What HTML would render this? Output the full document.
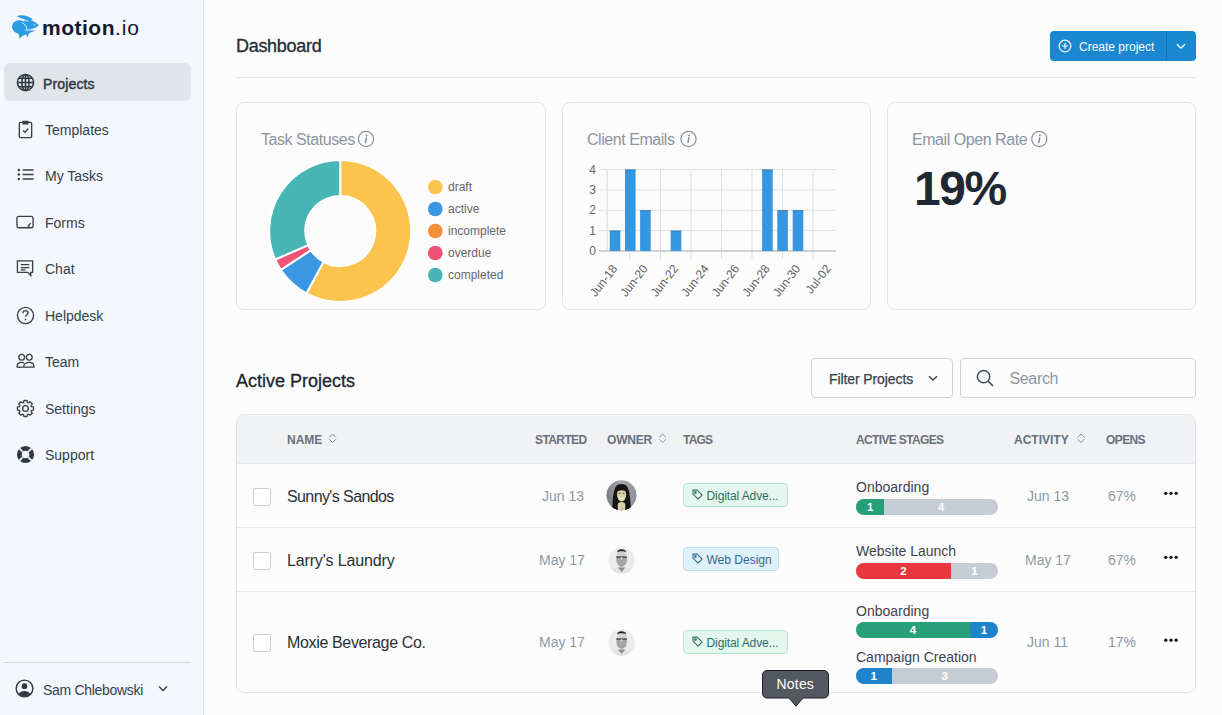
<!DOCTYPE html>
<html><head><meta charset="utf-8">
<style>
*{box-sizing:border-box;margin:0;padding:0}
html,body{width:1222px;height:715px;overflow:hidden;background:#fcfcfd;font-family:"Liberation Sans",sans-serif;color:#2a2f36}
.a{position:absolute}
.t{position:absolute;white-space:nowrap;line-height:1}
#side{position:absolute;left:0;top:0;width:204px;height:715px;background:#f4f7fb;border-right:1px solid #e3e6ea}
.nav{position:absolute;left:4px;width:187px;height:38px;border-radius:6px}
.nav.act{background:#e1e4e9}
.nav svg{position:absolute;left:12px;top:10px}
.nav .lbl{position:absolute;left:41px;top:13px;font-size:14px;line-height:14px;color:#363e4a;white-space:nowrap}
.card{position:absolute;top:102px;height:208px;border:1px solid #e1e4e8;border-radius:8px;background:#fcfcfd}
.ctitle{position:absolute;left:24px;top:29px;font-size:16px;line-height:16px;color:#8b95a1;white-space:nowrap;letter-spacing:-0.45px}
.info{display:inline-block;vertical-align:top}
.th{position:absolute;top:434px;font-size:12px;line-height:12px;font-weight:bold;color:#68707c;white-space:nowrap}
.sep{position:absolute;left:237px;width:958px;height:1px;background:#e6e8ec}
.cb{position:absolute;left:253px;width:18px;height:18px;border:1.5px solid #c9ced5;border-radius:2px;background:#fff}
.pname{position:absolute;left:287px;font-size:16px;line-height:16px;color:#2a2f36;white-space:nowrap;letter-spacing:-0.25px}
.date{position:absolute;font-size:14px;line-height:14px;color:#8e98a3;white-space:nowrap}
.pct{position:absolute;left:1108px;font-size:14px;line-height:14px;color:#8e98a3;white-space:nowrap}
.dots{position:absolute;left:1164px}
.stage{position:absolute;left:856px;font-size:14px;line-height:14px;color:#3b4350;white-space:nowrap}
.bar{position:absolute;left:856px;width:142px;height:16px;border-radius:8px;overflow:hidden;background:#c6ccd3;display:flex}
.bar div{height:16px;color:#fff;font-size:11.5px;line-height:16px;text-align:center;font-weight:bold}
.tag{position:absolute;height:24px;border-radius:4px;font-size:12px;line-height:22px;white-space:nowrap}
.tag svg{position:absolute;left:8.5px;top:5.5px;width:11px;height:11px}
.tag span{position:absolute;left:23px;top:1px}
</style></head><body>

<div id="side">
  <!-- logo -->
  <svg class="a" style="left:0;top:0" width="45" height="45" viewBox="0 0 45 45">
    <g fill="#2b9ce2">
    <path d="M16.8 16.4 C20 14.3 27 14.6 32.8 19.3 L28.5 21.2 C25 19.6 21 18.6 16.8 16.4 Z"/>
    <path d="M23.5 20.3 C28 18.8 34 20.5 39 25.2 C36 27.8 32 29.2 28 29.8 L26.5 30 C26 26 25.2 23 23.5 20.3 Z"/>
    <ellipse cx="19.3" cy="26.8" rx="7.4" ry="6.6"/>
    <path d="M22 30.5 L35.5 30.6 L20 37 Z"/>
    <path d="M17.5 31 L20 38.8 L24.5 32 Z"/>
    <path d="M26 33.5 L27.3 37.8 L29 33 Z"/>
    </g>
    <path d="M22 22.8 C24.8 24 26.6 26.5 27.1 29.8" fill="none" stroke="#f5f7fa" stroke-width="0.9"/>
    <path d="M17 17.3 C21 19 25 20 28.5 21.3" fill="none" stroke="#f5f7fa" stroke-width="0.8"/>
    <circle cx="34.6" cy="24.8" r="0.8" fill="#bfe3fa"/>
  </svg>
  <div class="t" style="left:42px;top:16.6px;font-size:21px;line-height:21px;font-weight:bold;color:#121a2b;letter-spacing:0.5px">motion<span style="font-weight:normal;letter-spacing:0.9px">.io</span></div>

  <div class="nav act" style="top:63px">
    <svg width="19" height="19" viewBox="0 0 20 20" fill="none" stroke="#2f3743" stroke-width="1.6"><circle cx="10" cy="10" r="8.5"/><ellipse cx="10" cy="10" rx="3.8" ry="8.5"/><path d="M1.5 10h17M3 5.5h14M3 14.5h14M10 1.5v17"/></svg>
    <div class="lbl" style="color:#2f3743;left:39px;top:13.5px;-webkit-text-stroke:0.45px #2f3743;letter-spacing:0.15px">Projects</div>
  </div>
  <div class="nav" style="top:110px">
    <svg width="19" height="19" viewBox="0 0 20 20" fill="none" stroke="#363e4a" stroke-width="1.4"><rect x="3.5" y="2.5" width="13" height="16" rx="1.5"/><path d="M7.5 1.5h5v2.5h-5z" fill="#363e4a"/><path d="M7.5 11l2 2 3.5-4"/></svg>
    <div class="lbl">Templates</div>
  </div>
  <div class="nav" style="top:156px">
    <svg width="19" height="19" viewBox="0 0 20 20" fill="none" stroke="#363e4a" stroke-width="1.4"><path d="M7 4.2h11.5M7 9h11.5M7 13.7h11.5" stroke-width="1.5"/><circle cx="3" cy="4.2" r="1.25" fill="#363e4a" stroke="none"/><circle cx="3" cy="9" r="1.25" fill="#363e4a" stroke="none"/><circle cx="3" cy="13.7" r="1.25" fill="#363e4a" stroke="none"/></svg>
    <div class="lbl">My Tasks</div>
  </div>
  <div class="nav" style="top:203px">
    <svg width="19" height="19" viewBox="0 0 20 20" fill="none" stroke="#363e4a" stroke-width="1.4"><rect x="1" y="3.5" width="17" height="12" rx="2"/><path d="M12.8 13.4l2.8-2.8M12.2 13.8h2.2" stroke-width="1.2"/></svg>
    <div class="lbl">Forms</div>
  </div>
  <div class="nav" style="top:249px">
    <svg width="19" height="19" viewBox="0 0 20 20" fill="none" stroke="#363e4a" stroke-width="1.4"><path d="M1.5 2h16v12h-2v3.5l-3-3.5h-11z"/><path d="M5 6h9M5 9h9M5 11.5h5"/></svg>
    <div class="lbl">Chat</div>
  </div>
  <div class="nav" style="top:296px">
    <svg width="19" height="19" viewBox="0 0 20 20" fill="none" stroke="#363e4a" stroke-width="1.4"><circle cx="10" cy="10" r="8.5"/><path d="M7.3 7.5c0-1.6 1.2-2.7 2.7-2.7s2.7 1.1 2.7 2.5c0 1.8-2.7 2-2.7 4"/><circle cx="10" cy="14.3" r="0.9" fill="#363e4a" stroke="none"/></svg>
    <div class="lbl">Helpdesk</div>
  </div>
  <div class="nav" style="top:342px">
    <svg width="19" height="19" viewBox="0 0 20 20" fill="none" stroke="#363e4a" stroke-width="1.4"><circle cx="6" cy="5.5" r="3"/><circle cx="14" cy="5.5" r="3"/><path d="M1 16c0-3 2-5 5-5 1.2 0 2 .3 2.7.8M8 16c0-3 2.6-5 6-5s5 2 5 5z"/><path d="M1 16h6"/></svg>
    <div class="lbl">Team</div>
  </div>
  <div class="nav" style="top:389px">
    <svg width="19" height="19" viewBox="0 0 20 20" fill="none" stroke="#363e4a" stroke-width="1.4"><path d="M16.31 8.05 L18.43 8.29 L18.43 11.71 L16.31 11.95 L15.84 13.08 L17.17 14.75 L14.75 17.17 L13.08 15.84 L11.95 16.31 L11.71 18.43 L8.29 18.43 L8.05 16.31 L6.92 15.84 L5.25 17.17 L2.83 14.75 L4.16 13.08 L3.69 11.95 L1.57 11.71 L1.57 8.29 L3.69 8.05 L4.16 6.92 L2.83 5.25 L5.25 2.83 L6.92 4.16 L8.05 3.69 L8.29 1.57 L11.71 1.57 L11.95 3.69 L13.08 4.16 L14.75 2.83 L17.17 5.25 L15.84 6.92Z" stroke-linejoin="round"/><circle cx="10" cy="10" r="3"/></svg>
    <div class="lbl">Settings</div>
  </div>
  <div class="nav" style="top:435px">
    <svg width="19" height="19" viewBox="0 0 20 20"><circle cx="10" cy="10" r="9" fill="#2f3743"/><circle cx="10" cy="10" r="4" fill="#f4f7fb"/><path d="M3.5 3.5l3.5 3.5M16.5 3.5l-3.5 3.5M3.5 16.5l3.5-3.5M16.5 16.5l-3.5-3.5" stroke="#f4f7fb" stroke-width="2"/></svg>
    <div class="lbl">Support</div>
  </div>

  <div class="a" style="left:4px;top:662px;width:187px;height:1px;background:#cfd4da"></div>
  <svg class="a" style="left:15px;top:679px" width="19" height="19" viewBox="0 0 20 20"><circle cx="10" cy="10" r="8.8" fill="none" stroke="#2f3743" stroke-width="1.5"/><circle cx="10" cy="7.5" r="3" fill="#2f3743"/><path d="M3.8 15.8c1.3-2.2 3.5-3.3 6.2-3.3s4.9 1.1 6.2 3.3c-1.6 1.6-3.8 2.6-6.2 2.6s-4.6-1-6.2-2.6z" fill="#2f3743"/></svg>
  <div class="t" style="left:43px;top:683px;font-size:14px;color:#363e4a;letter-spacing:-0.3px">Sam Chlebowski</div>
  <svg class="a" style="left:158px;top:685px" width="10" height="8" viewBox="0 0 10 8"><path d="M1 1.5l4 4 4-4" fill="none" stroke="#363e4a" stroke-width="1.4"/></svg>
</div>

<!-- header -->
<div class="t" style="left:236px;top:37px;font-size:18px;color:#252b35;letter-spacing:-0.3px;-webkit-text-stroke:0.3px #252b35">Dashboard</div>
<div class="a" style="left:1050px;top:31px;width:146px;height:30px;background:#1a88d0;border-radius:4px"></div>
<div class="a" style="left:1166px;top:31px;width:1px;height:30px;background:#1573b3"></div>
<svg class="a" style="left:1058px;top:39px" width="14" height="14" viewBox="0 0 14 14" fill="none" stroke="#fff" stroke-width="1.2"><circle cx="7" cy="7" r="5.8"/><path d="M7 4v6M4 7h6"/></svg>
<div class="t" style="left:1079px;top:41px;font-size:12px;color:#fff">Create project</div>
<svg class="a" style="left:1176px;top:43px" width="10" height="7" viewBox="0 0 10 7"><path d="M1 1.3l4 3.8 4-3.8" fill="none" stroke="#fff" stroke-width="1.3"/></svg>
<div class="a" style="left:236px;top:77px;width:960px;height:1px;background:#e3e6ea"></div>

<!-- cards -->
<div class="card" style="left:236px;width:310px">
  <div class="ctitle">Task Statuses</div>
</div>
<div class="card" style="left:562px;width:309px">
  <div class="ctitle">Client Emails</div>
</div>
<div class="card" style="left:887px;width:309px">
  <div class="ctitle">Email Open Rate</div>
  <div class="t" style="left:26px;top:62px;font-size:48px;font-weight:bold;color:#1e2733;letter-spacing:-1.5px">19%</div>
</div>

<!-- active projects -->
<div class="t" style="left:236px;top:372px;font-size:18px;color:#20252c;-webkit-text-stroke:0.3px #20252c">Active Projects</div>
<div class="a" style="left:811px;top:358px;width:142px;height:40px;border:1px solid #cdd1d7;border-radius:4px;background:#fcfcfd"></div>
<div class="t" style="left:829px;top:372px;font-size:14px;color:#38404c;-webkit-text-stroke:0.25px #38404c;letter-spacing:-0.1px">Filter Projects</div>
<svg class="a" style="left:928px;top:375px" width="10" height="7" viewBox="0 0 10 7"><path d="M1 1.3l4 3.8 4-3.8" fill="none" stroke="#38404c" stroke-width="1.4"/></svg>
<div class="a" style="left:960px;top:358px;width:236px;height:40px;border:1px solid #cdd1d7;border-radius:4px;background:#fcfcfd"></div>
<svg class="a" style="left:976px;top:369px" width="19" height="19" viewBox="0 0 20 20" fill="none" stroke="#454d58" stroke-width="1.6"><circle cx="8" cy="8" r="6.5"/><path d="M12.8 12.8l5 5"/></svg>
<div class="t" style="left:1009.5px;top:371px;font-size:16px;color:#8d97a2;letter-spacing:-0.35px">Search</div>

<!-- table -->
<div class="a" style="left:236px;top:414px;width:960px;height:279px;border:1px solid #e1e4e8;border-radius:8px;background:#fcfcfd;overflow:hidden">
  <div class="a" style="left:0;top:0;width:960px;height:49px;background:#f0f2f5"></div>
</div>
<div class="th" style="left:287px">NAME</div>
<div class="th" style="left:535px;letter-spacing:-0.6px">STARTED</div>
<div class="th" style="left:607px;letter-spacing:-0.2px">OWNER</div>
<div class="th" style="left:683px;letter-spacing:-0.8px">TAGS</div>
<div class="th" style="left:856px;letter-spacing:-0.65px">ACTIVE STAGES</div>
<div class="th" style="left:1014px">ACTIVITY</div>
<div class="th" style="left:1106px;letter-spacing:-0.6px">OPENS</div>

<div class="sep" style="top:463px"></div>
<div class="sep" style="top:527px"></div>
<div class="sep" style="top:591px"></div>

<div class="cb" style="top:488px"></div>
<div class="cb" style="top:552px"></div>
<div class="cb" style="top:634px"></div>
<div class="pname" style="top:489px;letter-spacing:-0.6px">Sunny's Sandos</div>
<div class="pname" style="top:553px;letter-spacing:-0.15px">Larry's Laundry</div>
<div class="pname" style="top:635px;letter-spacing:-0.35px">Moxie Beverage Co.</div>
<div class="date" style="left:542px;top:489px">Jun 13</div>
<div class="date" style="left:539px;top:553px">May 17</div>
<div class="date" style="left:539px;top:635px">May 17</div>
<div class="date" style="left:1027px;top:489px">Jun 13</div>
<div class="date" style="left:1025px;top:553px">May 17</div>
<div class="date" style="left:1027px;top:635px">Jun 11</div>
<div class="pct" style="top:489px">67%</div>
<div class="pct" style="top:553px">67%</div>
<div class="pct" style="top:635px">17%</div>

<div class="stage" style="top:480px">Onboarding</div>
<div class="bar" style="top:499px"><div style="width:28.4px;background:#27a07a">1</div><div style="flex:1">4</div></div>
<div class="stage" style="top:544px">Website Launch</div>
<div class="bar" style="top:563px"><div style="width:95px;background:#e8383d">2</div><div style="flex:1">1</div></div>
<div class="stage" style="top:603.5px">Onboarding</div>
<div class="bar" style="top:622px"><div style="width:114px;background:#27a07a">4</div><div style="flex:1;background:#1d84cc">1</div></div>
<div class="stage" style="top:649.5px">Campaign Creation</div>
<div class="bar" style="top:668px"><div style="width:35.5px;background:#1d84cc">1</div><div style="flex:1">3</div></div>

<svg class="a" style="left:0;top:0" width="1222" height="715" viewBox="0 0 1222 715" font-family="Liberation Sans, sans-serif">
<path d="M340.20 160.00A71 71 0 1 1 306.41 293.44L323.54 261.78A35 35 0 1 0 340.20 196.00Z" fill="#fcc44c" stroke="#fff" stroke-width="2" stroke-linejoin="bevel"/>
<path d="M306.41 293.44A71 71 0 0 1 280.76 269.83L310.90 250.14A35 35 0 0 0 323.54 261.78Z" fill="#3a97e1" stroke="#fff" stroke-width="2" stroke-linejoin="bevel"/>
<path d="M280.76 269.83A71 71 0 0 1 275.18 259.52L308.15 245.06A35 35 0 0 0 310.90 250.14Z" fill="#ef5476" stroke="#fff" stroke-width="2" stroke-linejoin="bevel"/>
<path d="M275.18 259.52A71 71 0 0 1 340.20 160.00L340.20 196.00A35 35 0 0 0 308.15 245.06Z" fill="#46b5b3" stroke="#fff" stroke-width="2" stroke-linejoin="bevel"/>
<circle cx="435.3" cy="187" r="7.3" fill="#fcc44c"/><text x="448" y="191.3" font-size="12" fill="#666">draft</text>
<circle cx="435.3" cy="209" r="7.3" fill="#3a97e1"/><text x="448" y="213.3" font-size="12" fill="#666">active</text>
<circle cx="435.3" cy="231" r="7.3" fill="#f78f3a"/><text x="448" y="235.3" font-size="12" fill="#666">incomplete</text>
<circle cx="435.3" cy="253" r="7.3" fill="#ef5476"/><text x="448" y="257.3" font-size="12" fill="#666">overdue</text>
<circle cx="435.3" cy="275" r="7.3" fill="#46b5b3"/><text x="448" y="279.3" font-size="12" fill="#666">completed</text>

<path d="M599 169.5H836.2" stroke="#dfdfdf" stroke-width="1"/>
<path d="M599 189.9H836.2" stroke="#dfdfdf" stroke-width="1"/>
<path d="M599 210.3H836.2" stroke="#dfdfdf" stroke-width="1"/>
<path d="M599 230.6H836.2" stroke="#dfdfdf" stroke-width="1"/>
<path d="M630 169V259" stroke="#dfdfdf" stroke-width="1"/>
<path d="M660.5 169V259" stroke="#dfdfdf" stroke-width="1"/>
<path d="M691 169V259" stroke="#dfdfdf" stroke-width="1"/>
<path d="M721.5 169V259" stroke="#dfdfdf" stroke-width="1"/>
<path d="M752 169V259" stroke="#dfdfdf" stroke-width="1"/>
<path d="M782.5 169V259" stroke="#dfdfdf" stroke-width="1"/>
<path d="M813 169V259" stroke="#dfdfdf" stroke-width="1"/>
<path d="M607.2 169V251" stroke="#e3e3e3" stroke-width="1.5"/>
<path d="M599 251H836.2" stroke="#d2d2d2" stroke-width="1.8"/>
<rect x="609.7" y="230.7" width="10.6" height="20.3" fill="#3796e0"/>
<rect x="609.7" y="230.7" width="10.6" height="1" fill="#2d7fbf"/>
<rect x="625.0" y="169.6" width="10.6" height="81.4" fill="#3796e0"/>
<rect x="625.0" y="169.6" width="10.6" height="1" fill="#2d7fbf"/>
<rect x="640.1" y="210.3" width="10.6" height="40.7" fill="#3796e0"/>
<rect x="640.1" y="210.3" width="10.6" height="1" fill="#2d7fbf"/>
<rect x="670.7" y="230.7" width="10.6" height="20.3" fill="#3796e0"/>
<rect x="670.7" y="230.7" width="10.6" height="1" fill="#2d7fbf"/>
<rect x="762.1" y="169.6" width="10.6" height="81.4" fill="#3796e0"/>
<rect x="762.1" y="169.6" width="10.6" height="1" fill="#2d7fbf"/>
<rect x="777.3" y="210.3" width="10.6" height="40.7" fill="#3796e0"/>
<rect x="777.3" y="210.3" width="10.6" height="1" fill="#2d7fbf"/>
<rect x="792.7" y="210.3" width="10.6" height="40.7" fill="#3796e0"/>
<rect x="792.7" y="210.3" width="10.6" height="1" fill="#2d7fbf"/>
<text x="596" y="173.5" text-anchor="end" font-size="12" fill="#666">4</text>
<text x="596" y="193.8" text-anchor="end" font-size="12" fill="#666">3</text>
<text x="596" y="214.2" text-anchor="end" font-size="12" fill="#666">2</text>
<text x="596" y="234.6" text-anchor="end" font-size="12" fill="#666">1</text>
<text x="596" y="254.9" text-anchor="end" font-size="12" fill="#666">0</text>
<text x="618.0" y="268.7" text-anchor="end" font-size="12" fill="#5e5e5e" transform="rotate(-52 618.0 268.7)">Jun-18</text>
<text x="648.5" y="268.7" text-anchor="end" font-size="12" fill="#5e5e5e" transform="rotate(-52 648.5 268.7)">Jun-20</text>
<text x="679.0" y="268.7" text-anchor="end" font-size="12" fill="#5e5e5e" transform="rotate(-52 679.0 268.7)">Jun-22</text>
<text x="709.5" y="268.7" text-anchor="end" font-size="12" fill="#5e5e5e" transform="rotate(-52 709.5 268.7)">Jun-24</text>
<text x="740.0" y="268.7" text-anchor="end" font-size="12" fill="#5e5e5e" transform="rotate(-52 740.0 268.7)">Jun-26</text>
<text x="770.5" y="268.7" text-anchor="end" font-size="12" fill="#5e5e5e" transform="rotate(-52 770.5 268.7)">Jun-28</text>
<text x="801.0" y="268.7" text-anchor="end" font-size="12" fill="#5e5e5e" transform="rotate(-52 801.0 268.7)">Jun-30</text>
<text x="831.5" y="268.7" text-anchor="end" font-size="12" fill="#5e5e5e" transform="rotate(-52 831.5 268.7)">Jul-02</text>
<circle cx="366.0" cy="139.0" r="7.6" fill="none" stroke="#8b95a1" stroke-width="1.3"/><path d="M366.35 138.00L365.45 142.60" stroke="#7f8995" stroke-width="1.45" stroke-linecap="round"/><circle cx="366.55" cy="135.50" r="0.95" fill="#7f8995"/>
<circle cx="688.5" cy="139.0" r="7.6" fill="none" stroke="#8b95a1" stroke-width="1.3"/><path d="M688.85 138.00L687.95 142.60" stroke="#7f8995" stroke-width="1.45" stroke-linecap="round"/><circle cx="689.05" cy="135.50" r="0.95" fill="#7f8995"/>
<circle cx="1039.3" cy="139.0" r="7.6" fill="none" stroke="#8b95a1" stroke-width="1.3"/><path d="M1039.65 138.00L1038.75 142.60" stroke="#7f8995" stroke-width="1.45" stroke-linecap="round"/><circle cx="1039.85" cy="135.50" r="0.95" fill="#7f8995"/>


<path d="M329.3 437.3l3.3-3.3 3.3 3.3M329.3 439.3l3.3 3.3 3.3-3.3" fill="none" stroke="#858c97" stroke-width="1"/>
<path d="M659.4 437.3l3.3-3.3 3.3 3.3M659.4 439.3l3.3 3.3 3.3-3.3" fill="none" stroke="#858c97" stroke-width="1"/>
<path d="M1077.7 437.3l3.3-3.3 3.3 3.3M1077.7 439.3l3.3 3.3 3.3-3.3" fill="none" stroke="#858c97" stroke-width="1"/>
<circle cx="1165.8" cy="493.3" r="1.65" fill="#111"/><circle cx="1171.0" cy="493.3" r="1.65" fill="#111"/><circle cx="1176.2" cy="493.3" r="1.65" fill="#111"/><circle cx="1165.8" cy="557.3" r="1.65" fill="#111"/><circle cx="1171.0" cy="557.3" r="1.65" fill="#111"/><circle cx="1176.2" cy="557.3" r="1.65" fill="#111"/><circle cx="1165.8" cy="640.2" r="1.65" fill="#111"/><circle cx="1171.0" cy="640.2" r="1.65" fill="#111"/><circle cx="1176.2" cy="640.2" r="1.65" fill="#111"/>

</svg>

<div class="tag" style="left:682.5px;top:482.5px;letter-spacing:-0.1px;width:105px;background:#e4f7ef;border:1px solid #b3e6cf;color:#2d6e61"><svg width="12" height="12" viewBox="0 0 12 12" fill="none" stroke="#2d6e61" stroke-width="1.2"><path d="M1 1.2h4.6l5.4 5.4-4.4 4.4L1.2 5.6z" stroke-linejoin="round"/><circle cx="3.7" cy="3.9" r="0.9"/></svg><span>Digital Adve...</span></div>
<div class="tag" style="left:682.5px;top:546.5px;width:96px;background:#dff1fb;border:1px solid #bcdff2;color:#2b6a92"><svg width="12" height="12" viewBox="0 0 12 12" fill="none" stroke="#2b6a92" stroke-width="1.2"><path d="M1 1.2h4.6l5.4 5.4-4.4 4.4L1.2 5.6z" stroke-linejoin="round"/><circle cx="3.7" cy="3.9" r="0.9"/></svg><span>Web Design</span></div>
<div class="tag" style="left:682.5px;top:629.5px;letter-spacing:-0.1px;width:105px;background:#e4f7ef;border:1px solid #b3e6cf;color:#2d6e61"><svg width="12" height="12" viewBox="0 0 12 12" fill="none" stroke="#2d6e61" stroke-width="1.2"><path d="M1 1.2h4.6l5.4 5.4-4.4 4.4L1.2 5.6z" stroke-linejoin="round"/><circle cx="3.7" cy="3.9" r="0.9"/></svg><span>Digital Adve...</span></div>
<svg class="a" style="left:606px;top:480px" width="31" height="31" viewBox="0 0 31 31">
<defs><clipPath id="c1"><circle cx="15.5" cy="15.3" r="15"/></clipPath>
<linearGradient id="g1" x1="0" y1="0" x2="1" y2="0"><stop offset="0" stop-color="#76797e"/><stop offset="0.45" stop-color="#a4a7ab"/><stop offset="1" stop-color="#8e9196"/></linearGradient></defs>
<g clip-path="url(#c1)">
<rect width="31" height="31" fill="url(#g1)"/>
<path d="M6.5 31 C6 24 7 12 9.5 7 C11.5 3 19.5 3 21.5 7 C24 12 25 24 24.5 31 Z" fill="#161616"/>
<path d="M11.3 26 C11.5 23 13 22 15.5 22 C18 22 19.5 23 19.7 26 L20 31 L11 31Z" fill="#d9cfa8"/>
<ellipse cx="15.6" cy="14.6" rx="4.6" ry="6.8" fill="#ddd2a6"/>
<path d="M10.8 12.5 C11 8 13.5 7 15.6 7 C18 7 20.4 8.5 20.5 12.5 C19 9.8 13 9.5 10.8 12.5Z" fill="#161616"/>
<path d="M13.2 17.6 Q15.6 19.8 18 17.6" stroke="#fafafa" stroke-width="1.1" fill="none"/>
<path d="M12.8 13.3h1.8M16.7 13.3h1.8" stroke="#3a3a3a" stroke-width="0.9"/>
<path d="M3 31 C5 26 8 24.5 11.3 24 L12 31Z M28 31 C26 26 23 24.5 19.7 24 L19 31Z" fill="#0e0e0e"/>
<circle cx="16.5" cy="28" r="0.6" fill="#c0392b"/>
</g></svg><svg class="a" style="left:607px;top:546px" width="28" height="28" viewBox="0 0 28 28">
<defs><clipPath id="c2546"><circle cx="14.6" cy="14.4" r="13.2"/></clipPath></defs>
<g clip-path="url(#c2546)">
<rect width="28" height="28" fill="#e9ebef"/>
<path d="M2.5 28 C4.5 23 9 21.3 14.6 21.3 C20.2 21.3 24.7 23 26.7 28Z" fill="#e2e2e2"/>
<path d="M11 21.5 L14.6 26 L18.2 21.5Z" fill="#8c8c8c"/>
<ellipse cx="14.6" cy="13.8" rx="5.3" ry="7" fill="#a3a3a3"/>
<ellipse cx="14.6" cy="8.6" rx="5" ry="3.6" fill="#d2d2d2"/>
<path d="M9.8 6.3 C10.5 2.2 18.7 2.2 19.4 6.3 C17 5 12.2 5 9.8 6.3Z" fill="#1f1f1f"/>
<rect x="9.3" y="10.2" width="10.6" height="1.8" fill="#5a5a5a"/>
<ellipse cx="14.6" cy="12.6" rx="0.9" ry="1.8" fill="#d0d0d0"/>
</g></svg><svg class="a" style="left:607px;top:628px" width="28" height="28" viewBox="0 0 28 28">
<defs><clipPath id="c2628"><circle cx="14.6" cy="14.4" r="13.2"/></clipPath></defs>
<g clip-path="url(#c2628)">
<rect width="28" height="28" fill="#e9ebef"/>
<path d="M2.5 28 C4.5 23 9 21.3 14.6 21.3 C20.2 21.3 24.7 23 26.7 28Z" fill="#e2e2e2"/>
<path d="M11 21.5 L14.6 26 L18.2 21.5Z" fill="#8c8c8c"/>
<ellipse cx="14.6" cy="13.8" rx="5.3" ry="7" fill="#a3a3a3"/>
<ellipse cx="14.6" cy="8.6" rx="5" ry="3.6" fill="#d2d2d2"/>
<path d="M9.8 6.3 C10.5 2.2 18.7 2.2 19.4 6.3 C17 5 12.2 5 9.8 6.3Z" fill="#1f1f1f"/>
<rect x="9.3" y="10.2" width="10.6" height="1.8" fill="#5a5a5a"/>
<ellipse cx="14.6" cy="12.6" rx="0.9" ry="1.8" fill="#d0d0d0"/>
</g></svg>
<!-- tooltip -->
<svg class="a" style="left:762px;top:669.5px" width="70" height="40" viewBox="0 0 70 40"><path d="M5 0.5h57a4.5 4.5 0 0 1 4.5 4.5v18.5a4.5 4.5 0 0 1-4.5 4.5h-21l-7 8.2-7-8.2h-22a4.5 4.5 0 0 1-4.5-4.5v-18.5a4.5 4.5 0 0 1 4.5-4.5z" fill="#545961" stroke="#1c1e22" stroke-width="1"/></svg>
<div class="t" style="left:776.5px;top:677px;font-size:14px;color:#fff;letter-spacing:0.2px">Notes</div>

</body></html>
